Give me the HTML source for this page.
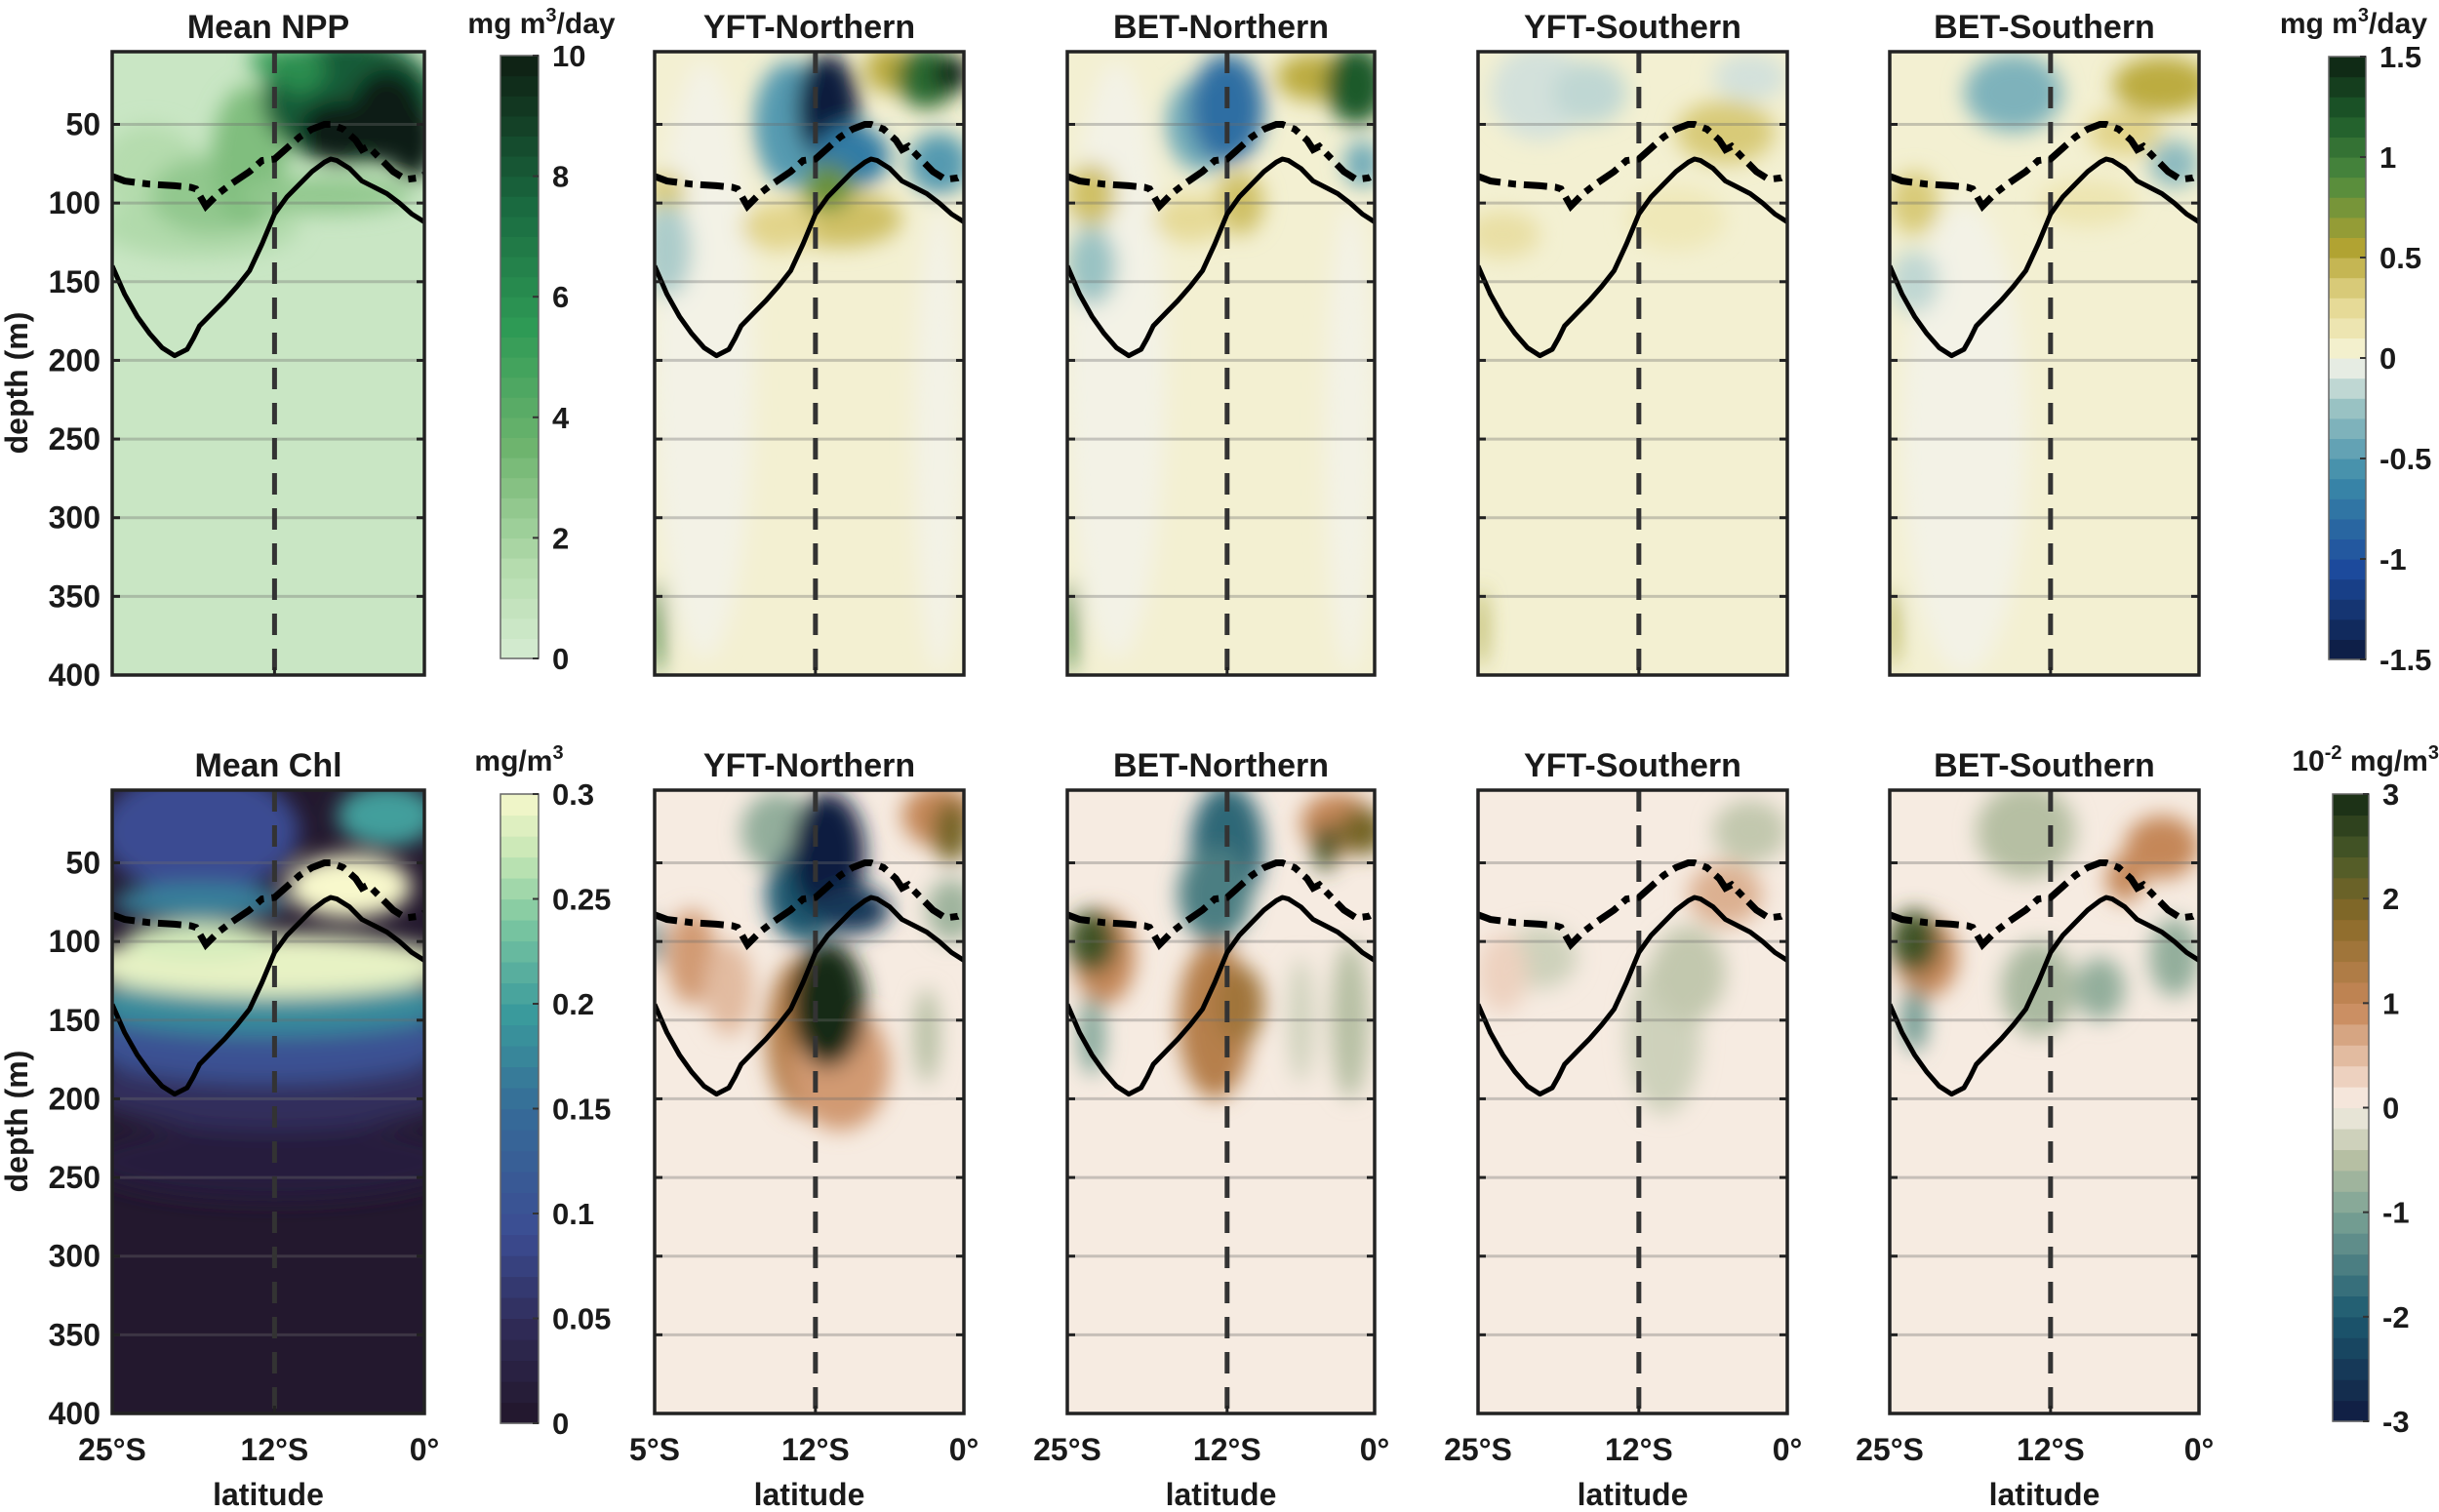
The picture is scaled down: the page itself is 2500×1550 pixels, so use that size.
<!DOCTYPE html>
<html><head><meta charset="utf-8"><style>
body{margin:0;background:#fff}
svg text{font-family:"Liberation Sans",Arial,sans-serif;font-weight:bold;fill:#1a1a1a}
</style></head><body>
<svg id="fig" width="2500" height="1545" viewBox="0 0 2500 1545" xmlns="http://www.w3.org/2000/svg">
<defs><filter id="blur" x="-50%" y="-50%" width="200%" height="200%"><feGaussianBlur stdDeviation="11"/></filter></defs>
</svg>
<script>
// ---------- data ----------
const depthTicks=[50,100,150,200,250,300,350,400];
const solidLat=[-25,-24,-23,-22,-21,-20,-19,-18.5,-18,-17,-16,-15,-14,-13,-12,-11,-10,-9,-8,-7.5,-7,-6,-5,-4,-3,-2,-1,0];
const solidDepth=[140,158,172,183,192,197,193,186,178,170,162,153,143,126,107,96,88,80,74,72,73,78,86,90,94,100,107,112];
const dashLat=[-25,-24,-22,-20,-18.7,-18.3,-17.5,-16.5,-15.5,-14,-13,-12,-11,-10,-9,-8,-7.5,-6.5,-5.5,-5,-4.5,-3.5,-2.5,-1.5,-0.5,0];
const dashDepth=[83,86,88,89,90,91,102,94,88,80,73,72,65,58,53,50,50,53,60,66,64,72,80,85,84,82];
const npp=[0.6,[[-22,80,4,30,1.5],[-18,115,8,20,1.6],[-17,95,5,25,2.5],[-14,70,3,45,3],[-12,10,2,10,5],[-8,95,7,12,2.5],[-6,35,7,40,8],[-3,45,3,30,10],[-7,55,3,20,10],[-1,60,2,25,10],[-10,15,2,15,6]]];
const yftN=[0.04,[[-21,200,4,190,-0.005],[-2,250,2,150,-0.005],[-14,50,3,40,-0.5],[-11,40,2.5,35,-1.5],[-9,70,3,20,-0.7],[-2,75,2.5,20,-0.5],[-6,15,2,15,0.5],[-3,20,2.5,20,1.1],[-1,18,1.5,12,1.5],[-10,110,5,18,0.4],[-11,90,2,15,0.8],[-15,115,3,15,0.3],[-24,95,1.5,15,0.35],[-24,130,2,30,-0.2],[-24.8,370,0.5,30,1]]];
const betN=[0.04,[[-21,200,4,190,-0.005],[-2,250,2,150,-0.005],[-14,50,3,30,-0.4],[-12,40,3,35,-0.8],[-5,20,3,15,0.5],[-1.5,25,2.5,25,1.2],[-1,75,1.5,15,-0.4],[-23,95,2,20,0.4],[-11,100,2,20,0.4],[-15,110,3,15,0.25],[-23,140,2,25,-0.25],[-24.8,370,0.5,30,1]]];
const yftS=[0.04,[[-20,30,4,30,-0.1],[-16,30,3,20,-0.15],[-3,20,3,15,-0.1],[-5,55,4,20,0.35],[-23,120,3,15,0.2],[-9,110,4,20,0.12],[-24.8,370,0.4,25,0.6]]];
const betS=[0.04,[[-19,250,5,150,-0.005],[-15,30,4,25,-0.35],[-3,25,4,18,0.5],[-6,55,3,15,0.3],[-2,75,2,15,-0.3],[-23,100,2,20,0.35],[-23,150,2,20,-0.15],[-9,100,4,15,0.15],[-24.8,370,0.4,25,0.6]]];
const chl=[0.004,[[-12,240,15,25,0.02],[-12,195,15,25,0.05],[-12.5,165,15,25,0.1],[-12.5,140,15,20,0.18],[-18,30,8,40,0.09],[-18,75,7,12,0.17],[-3,20,4,20,0.2],[-12.5,115,15,20,0.29],[-6,65,5,20,0.3],[-18,100,6,12,0.28]]];
const yftNc=[0.05,[[-15,30,3,25,-0.8],[-2,20,3,20,1],[-1,30,1.5,20,2],[-13,70,3,30,-2],[-11,45,3,40,-3],[-9,80,3,15,-2.5],[-1,80,2,20,-0.7],[-13,160,3,50,1.2],[-10,180,4,40,0.8],[-11,140,3,40,3],[-22,110,2,30,0.8],[-19,130,2,30,0.5],[-25,100,0.6,15,-1.5],[-3,160,1,30,-0.5]]];
const betNc=[0.05,[[-12,40,3,40,-1.8],[-13,70,3,30,-1.5],[-3,25,3,20,1],[-1,30,2,15,2],[-4,40,1,15,2.5],[-22,110,2.5,30,1],[-23,100,2,20,2.5],[-13,150,3,50,1.2],[-11,140,2,25,1.5],[-23,160,1,25,-1],[-2,150,1.5,50,-0.5],[-6,150,1,40,-0.3]]];
const yftSc=[0.05,[[-3,30,3,20,-0.4],[-5,70,3,20,0.6],[-10,160,3,50,-0.3],[-20,110,3,20,-0.3],[-8,120,3,30,-0.4],[-23,120,2,25,0.3]]];
const betSc=[0.05,[[-14,30,4,30,-0.5],[-3,40,3,20,1],[-6,60,1.5,15,1],[-22,110,2.5,25,1],[-23,100,2,20,2.5],[-23,150,1,20,-1.2],[-2,110,2,25,-0.8],[-8,130,2,20,-0.8],[-13,130,3,30,-0.6]]];
const cb1Ticks=[0,2,4,6,8,10];
const cb2Ticks=[-1.5,-1,-0.5,0,0.5,1,1.5];
const cb3Ticks=[0,0.05,0.1,0.15,0.2,0.25,0.3];
const cb4Ticks=[-3,-2,-1,0,1,2,3];
// ---------- colormaps ----------
const cmNPP={min:0,max:10,stops:[[0,'#d6ecd2'],[0.15,'#b5dcae'],[0.35,'#6eb46e'],[0.55,'#2e9a55'],[0.75,'#1a6a40'],[1,'#0e1e12']]};
const cmDiv={min:-1.5,max:1.5,stops:[[0,'#0c1a3e'],[0.15,'#1c4a9c'],[0.3,'#3a8aa8'],[0.42,'#9cc4c4'],[0.49,'#eef0e6'],[0.5,'#f4f2e6'],[0.52,'#f3efc8'],[0.6,'#e2d48a'],[0.68,'#b4a432'],[0.8,'#4c8a3e'],[0.9,'#1c5a2a'],[1,'#0e2212']]};
const cmChl={min:0,max:0.3,stops:[[0,'#22162a'],[0.15,'#2f2a55'],[0.3,'#3b4c92'],[0.5,'#356c98'],[0.65,'#3a9a9c'],[0.8,'#7ec8a0'],[0.9,'#c4e6b4'],[1,'#f8f8cc']]};
const cmDiv2={min:-3,max:3,stops:[[0,'#101a40'],[0.17,'#1c5a70'],[0.33,'#7aa294'],[0.42,'#b8c0a4'],[0.48,'#e4e2d2'],[0.5,'#f8f0e8'],[0.54,'#f0d8c8'],[0.66,'#c8885a'],[0.8,'#8a6a28'],[0.9,'#4a5a28'],[1,'#142a14']]};
function hex2rgb(h){return [1,3,5].map(i=>parseInt(h.substr(i,2),16));}
function cmap(cm,v){let t=(v-cm.min)/(cm.max-cm.min);t=Math.max(0,Math.min(1,t));const s=cm.stops;
 for(let i=1;i<s.length;i++){if(t<=s[i][0]){const a=hex2rgb(s[i-1][1]),b=hex2rgb(s[i][1]);const f=(t-s[i-1][0])/(s[i][0]-s[i-1][0]);
 return 'rgb('+a.map((x,k)=>Math.round(x+(b[k]-x)*f)).join(',')+')';}}return s[s.length-1][1];}
// ---------- drawing ----------
const svg=document.getElementById('fig');const NS='http://www.w3.org/2000/svg';
function el(tag,attrs,parent){const e=document.createElementNS(NS,tag);for(const k in attrs)e.setAttribute(k,attrs[k]);(parent||svg).appendChild(e);return e;}
function txt(s,attrs,parent){const e=el('text',attrs,parent);e.textContent=s;return e;}
const colsX=[[115,435],[671,988],[1094,1409],[1515,1832],[1937,2254]];
const rowsY=[[53,692],[810,1449]];
const D0=3.8,D1=400;
const panels=[
 [0,0,'Mean NPP',npp,cmNPP],[0,1,'YFT-Northern',yftN,cmDiv],[0,2,'BET-Northern',betN,cmDiv],[0,3,'YFT-Southern',yftS,cmDiv],[0,4,'BET-Southern',betS,cmDiv],
 [1,0,'Mean Chl',chl,cmChl],[1,1,'YFT-Northern',yftNc,cmDiv2],[1,2,'BET-Northern',betNc,cmDiv2],[1,3,'YFT-Southern',yftSc,cmDiv2],[1,4,'BET-Southern',betSc,cmDiv2]];
panels.forEach((p,idx)=>{
 const [r,c,title,field,cm]=p;const [x0,x1]=colsX[c],[y0,y1]=rowsY[r];
 const xs=lat=>x0+(lat+25)/25*(x1-x0);const ys=d=>y0+(d-D0)/(D1-D0)*(y1-y0);
 const g=el('g',{});
 
 
 const cid='clip'+idx;const cp=el('clipPath',{id:cid},g);el('rect',{x:x0,y:y0,width:x1-x0,height:y1-y0},cp);
 const hg=el('g',{'clip-path':'url(#'+cid+')'},g);
 const bg=el('rect',{x:x0-5,y:y0-5,width:x1-x0+10,height:y1-y0+10,fill:cmap(cm,field[0])},hg);
 
 
 const bl=el('g',{filter:'url(#blur)'},hg);
 field[1].forEach(b=>{const e=el('ellipse',{cx:xs(b[0]),cy:ys(b[1]),rx:b[2]/25*(x1-x0),ry:b[3]/(D1-D0)*(y1-y0),fill:cmap(cm,b[4])},bl);
  
  });
 depthTicks.slice(0,-1).forEach(d=>{const l=el('line',{x1:x0,x2:x1,y1:ys(d),y2:ys(d),stroke:'rgba(110,110,110,0.35)','stroke-width':3},hg);
  
  });
 const vx=xs(-12);
 const vl=el('line',{x1:vx,x2:vx,y1:y0,y2:y1,stroke:'#333','stroke-width':5,'stroke-dasharray':'22 14'},hg);
 
 
 const sp=el('polyline',{points:solidLat.map((l,i)=>xs(l)+','+ys(solidDepth[i])).join(' '),fill:'none',stroke:'#000','stroke-width':5,'stroke-linejoin':'round'},hg);
 
 
 const dp=el('polyline',{points:dashLat.map((l,i)=>xs(l)+','+ys(dashDepth[i])).join(' '),fill:'none',stroke:'#000','stroke-width':7,'stroke-dasharray':'24 8 8 8'},hg);
 
 
 const fr=el('rect',{x:x0,y:y0,width:x1-x0,height:y1-y0,fill:'none',stroke:'#222','stroke-width':3.5},g);
 
 
 depthTicks.slice(0,-1).forEach(d=>{el('line',{x1:x0,x2:x0+8,y1:ys(d),y2:ys(d),stroke:'#222','stroke-width':3},g);el('line',{x1:x1-8,x2:x1,y1:ys(d),y2:ys(d),stroke:'#222','stroke-width':3},g);});
 el('line',{x1:vx,x2:vx,y1:y1-8,y2:y1,stroke:'#222','stroke-width':3},g);
 const t=txt(title,{x:(x0+x1)/2,y:y0-14,'font-size':34,'text-anchor':'middle'},g);
 
 
 if(c===0){depthTicks.forEach(d=>{const tl=txt(String(d),{x:x0-12,y:ys(d)+11,'font-size':32,'text-anchor':'end'},g);
   
   });
  const yt=txt('depth (m)',{x:0,y:0,'font-size':32,'text-anchor':'middle',transform:'translate(28,'+((y0+y1)/2+20)+') rotate(-90)'},g);
  
  }
 if(r===1){const labs=[c===1?'5°S':'25°S','12°S','0°'];[x0,vx,x1].forEach((x,i)=>{const xl=txt(labs[i],{x:x,y:1497,'font-size':32,'text-anchor':'middle'},g);
   
   });
  const xt=txt('latitude',{x:(x0+x1)/2,y:1543,'font-size':32,'text-anchor':'middle'},g);
  
  }
});
// colorbars
function colorbar(name,x0,x1,yTop,yBot,cm,ticks){
 const g=el('g',{});
 
 
 const n=30;const ys=v=>yBot-(v-cm.min)/(cm.max-cm.min)*(yBot-yTop);
 for(let i=0;i<n;i++){const v=cm.min+(i+0.5)/n*(cm.max-cm.min);const a=cm.min+i/n*(cm.max-cm.min),b=cm.min+(i+1)/n*(cm.max-cm.min);
  el('rect',{x:x0,y:ys(b),width:x1-x0,height:ys(a)-ys(b)+0.6,fill:cmap(cm,v)},g);}
 el('rect',{x:x0,y:yTop,width:x1-x0,height:yBot-yTop,fill:'none',stroke:'#666','stroke-width':1.5},g);
 ticks.forEach(v=>{el('line',{x1:x1-6,x2:x1,y1:ys(v),y2:ys(v),stroke:'#333','stroke-width':2},g);
  const tl=txt(String(v),{x:x1+14,y:ys(v)+11,'font-size':31},g);
  
  });
 return g;}
colorbar('colorbar-npp',513,552,57,675,cmNPP,cb1Ticks);
colorbar('colorbar-npp-anomaly',2387,2425,58,676,cmDiv,cb2Ticks);
colorbar('colorbar-chl',513,552,814,1459,cmChl,cb3Ticks);
colorbar('colorbar-chl-anomaly',2391,2428,814,1457,cmDiv2,cb4Ticks);
// parts: [text, isSuperscript]
function unit(parts,x,y,anchor,name){const t=el('text',{x:x,y:y,'font-size':30,'text-anchor':anchor});
 
 
 let sup=false;
 parts.forEach(p=>{const a={};if(p[1]){a['font-size']=20;a.dy=-12;}else if(sup){a.dy=12;}sup=!!p[1];const s=el('tspan',a,t);s.textContent=p[0];});}
unit([['mg m',0],['3',1],['/day',0]],555,34,'middle','colorbar-npp-units');
unit([['mg m',0],['3',1],['/day',0]],2488,34,'end','colorbar-npp-anomaly-units');
unit([['mg/m',0],['3',1]],532,790,'middle','colorbar-chl-units');
unit([['10',0],['-2',1],[' mg/m',0],['3',1]],2500,790,'end','colorbar-chl-anomaly-units');
</script>
</body></html>
